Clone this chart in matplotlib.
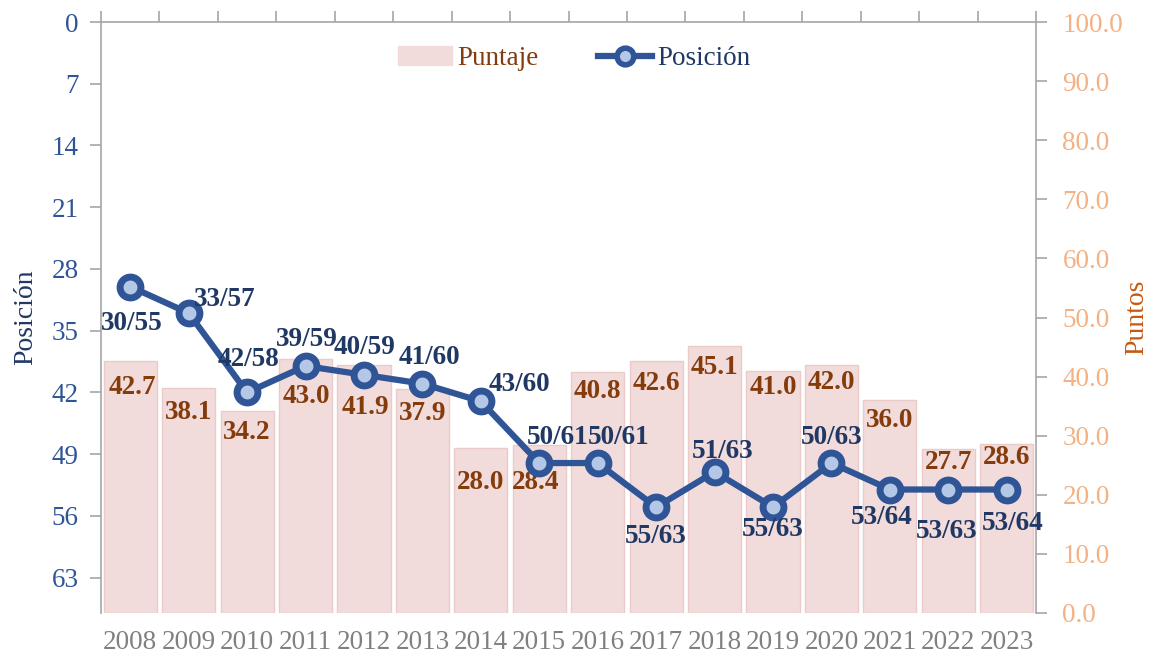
import matplotlib
matplotlib.use("Agg")
import matplotlib.pyplot as plt
from matplotlib.lines import Line2D
from matplotlib.patches import Patch

years = ["2008", "2009", "2010", "2011", "2012", "2013", "2014", "2015",
         "2016", "2017", "2018", "2019", "2020", "2021", "2022", "2023"]
puntaje = [42.7, 38.1, 34.2, 43.0, 41.9, 37.9, 28.0, 28.4,
           40.8, 42.6, 45.1, 41.0, 42.0, 36.0, 27.7, 28.6]
posicion = [30, 33, 42, 39, 40, 41, 43, 50, 50, 55, 51, 55, 50, 53, 53, 53]
pos_labels = ["30/55", "33/57", "42/58", "39/59", "40/59", "41/60", "43/60", "50/61",
              "50/61", "55/63", "51/63", "55/63", "50/63", "53/64", "53/63", "53/64"]
left_ticks = [0, 7, 14, 21, 28, 35, 42, 49, 56, 63]
right_ticks = [0, 10, 20, 30, 40, 50, 60, 70, 80, 90, 100]

# label offsets (pixels) - style only
pos_off = [(2, -37), (36, 14), (1, 33), (1, 27), (1, 27), (7, 26), (39, 17), (18, 26),
           (21, 26), (0, -29), (8, 20), (0, -22), (0, 26), (-8, -28), (-2, -42), (6, -34)]
bar_off = [(2, -27), (0, -25), (0, -22), (1, -38), (1, -42), (0, -24), (0, -35), (-4, -37),
           (0, -20), (0, -22), (0, -21), (0, -17), (0, -18), (0, -20), (0, -13), (0, -14)]

SERIF = ["Liberation Serif", "DejaVu Serif"]
plt.rcParams["font.family"] = SERIF

BLUE = "#2F5597"
NAVY = "#203864"
BROWN = "#843C0C"
ORANGE = "#F4B183"
GRAY = "#808080"
SPINE = "#A6A6A6"
FS = 19.5

fig = plt.figure(figsize=(11.51, 6.60), dpi=100)
rect = [101 / 1151, 1 - 613 / 660, (1036 - 101) / 1151, (613 - 22) / 660]
ax = fig.add_axes(rect)
ax2 = fig.add_axes(rect)
ax2.patch.set_visible(False)
x = list(range(len(years)))

# ---- bars (right scale) ----
ax.bar(x, puntaje, width=0.91, color="#F2DCDB", edgecolor="#EBCACA", linewidth=1.0, zorder=2)
ax.set_ylim(0, 100)
ax.set_xlim(-0.5, len(years) - 0.5)
ax.yaxis.tick_right()
ax.yaxis.set_label_position("right")
ax.set_yticks(right_ticks)
ax.set_yticklabels([f"{v:.1f}" for v in right_ticks])
ax.tick_params(axis="y", colors=SPINE, labelcolor=ORANGE, labelsize=FS, length=8,
               width=1.2, direction="out", pad=11)
ax.set_ylabel("Puntos", color="#C55A11", fontsize=20, labelpad=1)

for i, v in enumerate(puntaje):
    ax.annotate(f"{v:.1f}", (x[i], v), xytext=bar_off[i], textcoords="offset pixels",
                ha="center", va="center", fontsize=FS, fontweight="bold", color=BROWN, zorder=5)

ax.set_xticks(x)
ax.set_xticklabels(years)
ax.tick_params(axis="x", length=0, labelsize=FS, labelcolor=GRAY, pad=12)
for s in ["top", "bottom", "left"]:
    ax.spines[s].set_visible(False)
ax.spines["right"].set_color(SPINE)
ax.spines["right"].set_linewidth(1.2)

# ---- line (left scale) ----
ax2.plot(x, posicion, color=BLUE, linewidth=4.5, marker="o", markersize=15,
         markerfacecolor="#B4C7E7", markeredgecolor=BLUE, markeredgewidth=5, zorder=4)
ax2.set_ylim(67, 0)
ax2.set_xlim(-0.5, len(years) - 0.5)
ax2.yaxis.tick_left()
ax2.yaxis.set_label_position("left")
ax2.set_yticks(left_ticks)
ax2.tick_params(axis="y", colors=SPINE, labelcolor=BLUE, labelsize=FS, length=8,
                width=1.2, direction="out", pad=8)
ax2.set_ylabel("Posición", color=NAVY, fontsize=20, labelpad=10)

ax2.xaxis.tick_top()
ax2.set_xticks([i - 0.5 for i in range(len(years) + 1)])
ax2.set_xticklabels([])
ax2.tick_params(axis="x", colors=SPINE, length=8, width=1.2, direction="out")
for s in ["bottom", "right"]:
    ax2.spines[s].set_visible(False)
for s in ["left", "top"]:
    ax2.spines[s].set_color(SPINE)
    ax2.spines[s].set_linewidth(1.2)

for i, p in enumerate(posicion):
    ax2.annotate(pos_labels[i], (x[i], p), xytext=pos_off[i], textcoords="offset pixels",
                 ha="center", va="center", fontsize=FS, fontweight="bold", color=NAVY, zorder=6)

handles = [Patch(facecolor="#F2DCDB", edgecolor="#F2DCDB"),
           Line2D([0], [0], color=BLUE, linewidth=4.5, marker="o", markersize=12,
                  markerfacecolor="#B4C7E7", markeredgecolor=BLUE, markeredgewidth=4)]
leg = ax2.legend(handles, ["Puntaje", "Posición"], loc="upper center",
                 bbox_to_anchor=(0.506, 1.0), ncol=2, frameon=False, fontsize=FS,
                 handlelength=2.0, handleheight=0.7, columnspacing=2.2, handletextpad=0.2)
leg.get_texts()[0].set_color(BROWN)
leg.get_texts()[1].set_color(NAVY)

fig.savefig("out.png", dpi=100)
